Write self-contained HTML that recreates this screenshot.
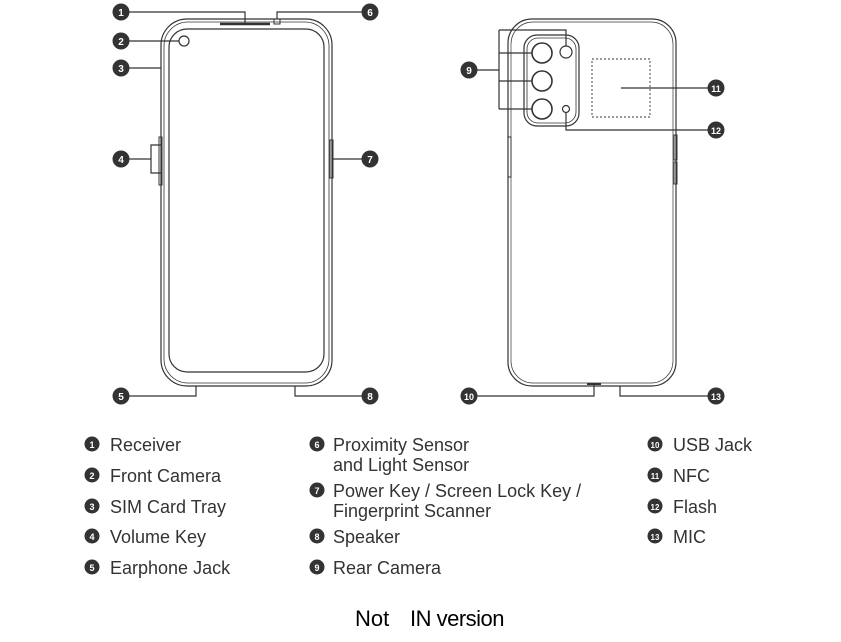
<!DOCTYPE html>
<html><head><style>body{margin:0;background:#fff}</style></head><body>
<svg width="841" height="637" xmlns="http://www.w3.org/2000/svg" font-family="Liberation Sans, sans-serif">
<g fill="none" stroke="#333" stroke-width="1.2">
<!-- front phone -->
<rect x="161" y="19" width="171" height="367" rx="26"/>
<rect x="164" y="22" width="165" height="361" rx="24" stroke-width="0.8"/>
<rect x="169" y="29" width="155" height="343" rx="18"/>
<line x1="220" y1="24" x2="270" y2="24" stroke-width="2.5"/>
<rect x="274" y="19" width="6" height="5" stroke-width="1"/>
<circle cx="184" cy="41" r="5"/>
<rect x="159" y="137" width="3" height="48" stroke-width="1"/>
<rect x="330" y="140" width="3" height="38" stroke-width="1"/>
<!-- leader lines front -->
<polyline points="129,12 245,12 245,24"/>
<polyline points="362,12 277,12 277,19"/>
<line x1="129" y1="41" x2="179" y2="41"/>
<line x1="129" y1="68" x2="161" y2="68"/>
<polyline points="129,159 151,159"/>
<polyline points="161,145 151,145 151,173 161,173"/>
<line x1="333" y1="159" x2="362" y2="159"/>
<polyline points="129,396 196,396 196,386"/>
<polyline points="295,386 295,396 362,396"/>
<!-- back phone -->
<rect x="508" y="19" width="168" height="367" rx="24"/>
<rect x="511" y="22" width="162" height="361" rx="22" stroke-width="0.7"/>
<rect x="524" y="35" width="55" height="91" rx="13"/>
<rect x="527" y="38" width="49" height="85" rx="11" stroke-width="0.8"/>
<circle cx="542" cy="53" r="10" stroke-width="1.6"/>
<circle cx="542" cy="81" r="10" stroke-width="1.6"/>
<circle cx="542" cy="109" r="10" stroke-width="1.6"/>
<circle cx="566" cy="52" r="6"/>
<circle cx="566" cy="109" r="3.5"/>
<rect x="592" y="59" width="58" height="58" stroke-dasharray="2,2" stroke-width="0.9"/>
<rect x="508" y="137" width="3" height="40" stroke-width="1"/>
<rect x="674" y="135" width="3" height="25" stroke-width="1"/>
<rect x="674" y="162" width="3" height="22" stroke-width="1"/>
<polyline points="499,30 566,30 566,46"/>
<line x1="499" y1="30" x2="499" y2="109"/>
<line x1="477" y1="70" x2="499" y2="70"/>
<line x1="499" y1="53" x2="532" y2="53"/>
<line x1="499" y1="81" x2="532" y2="81"/>
<line x1="499" y1="109" x2="532" y2="109"/>
<line x1="621" y1="88" x2="708" y2="88"/>
<polyline points="566,113 566,130 708,130"/>
<polyline points="477,396 594,396 594,384"/>
<polyline points="620,386 620,396 708,396"/>
<line x1="587" y1="384" x2="601" y2="384" stroke-width="2"/>
</g>
<g font-weight="bold" font-size="10" fill="#fff" text-anchor="middle">
<g fill="#333"><circle cx="121" cy="12" r="8.5"/><circle cx="370" cy="12" r="8.5"/><circle cx="121" cy="41" r="8.5"/><circle cx="121" cy="68" r="8.5"/><circle cx="121" cy="159" r="8.5"/><circle cx="370" cy="159" r="8.5"/><circle cx="121" cy="396" r="8.5"/><circle cx="370" cy="396" r="8.5"/><circle cx="469" cy="70" r="8.5"/><circle cx="716" cy="88" r="8.5"/><circle cx="716" cy="130" r="8.5"/><circle cx="469" cy="396" r="8.5"/><circle cx="716" cy="396" r="8.5"/></g>
<text x="121" y="16">1</text><text x="370" y="16">6</text><text x="121" y="45">2</text><text x="121" y="72">3</text><text x="121" y="163">4</text><text x="370" y="163">7</text><text x="121" y="400">5</text><text x="370" y="400">8</text><text x="469" y="74">9</text><text x="716" y="92" font-size="9">11</text><text x="716" y="134" font-size="9">12</text><text x="469" y="400" font-size="9">10</text><text x="716" y="400" font-size="9">13</text>
</g>
<g fill="#333"><circle cx="92" cy="444" r="7.5"/><circle cx="92" cy="475" r="7.5"/><circle cx="92" cy="506" r="7.5"/><circle cx="92" cy="536" r="7.5"/><circle cx="92" cy="567" r="7.5"/>
<circle cx="317" cy="444" r="7.5"/><circle cx="317" cy="490" r="7.5"/><circle cx="317" cy="536" r="7.5"/><circle cx="317" cy="567" r="7.5"/>
<circle cx="655" cy="444" r="7.5"/><circle cx="655" cy="475" r="7.5"/><circle cx="655" cy="506" r="7.5"/><circle cx="655" cy="536" r="7.5"/></g>
<g font-weight="bold" font-size="9" fill="#fff" text-anchor="middle">
<text x="92" y="448">1</text><text x="92" y="479">2</text><text x="92" y="510">3</text><text x="92" y="540">4</text><text x="92" y="571">5</text>
<text x="317" y="448">6</text><text x="317" y="494">7</text><text x="317" y="540">8</text><text x="317" y="571">9</text>
<text x="655" y="448" font-size="8">10</text><text x="655" y="479" font-size="8">11</text><text x="655" y="510" font-size="8">12</text><text x="655" y="540" font-size="8">13</text>
</g>
<g font-size="18" fill="#333">
<text x="110" y="451">Receiver</text><text x="110" y="482">Front Camera</text><text x="110" y="513">SIM Card Tray</text><text x="110" y="543">Volume Key</text><text x="110" y="574">Earphone Jack</text>
<text x="333" y="451">Proximity Sensor</text><text x="333" y="471">and Light Sensor</text><text x="333" y="497">Power Key / Screen Lock Key /</text><text x="333" y="517">Fingerprint Scanner</text><text x="333" y="543">Speaker</text><text x="333" y="574">Rear Camera</text>
<text x="673" y="451">USB Jack</text><text x="673" y="482">NFC</text><text x="673" y="513">Flash</text><text x="673" y="543">MIC</text>
</g>
<text x="355" y="626" font-size="22" fill="#000">Not</text>
<text x="410" y="626" font-size="22" fill="#000" letter-spacing="-0.5">IN version</text>
</svg>
</body></html>
